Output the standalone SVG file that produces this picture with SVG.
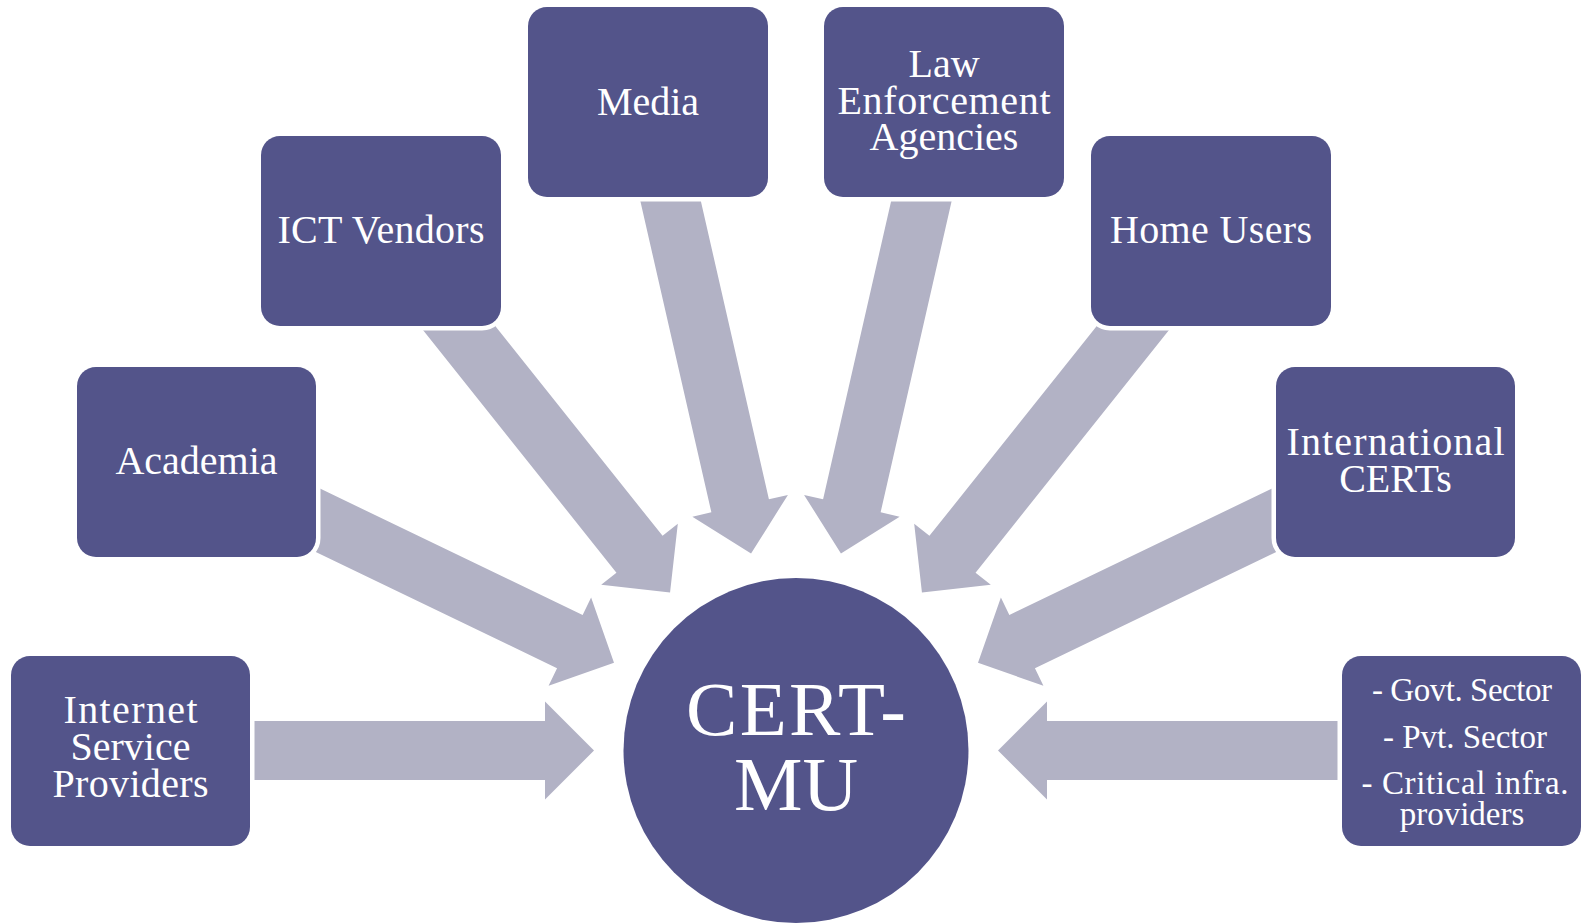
<svg xmlns="http://www.w3.org/2000/svg" width="1582" height="923" viewBox="0 0 1582 923">
<defs>
<style>
.box{fill:#53548a;stroke:#ffffff;stroke-width:9;paint-order:stroke}
.arrow{fill:#b2b2c5}
.t{font-family:"Liberation Serif","Times New Roman",serif;fill:#ffffff;text-anchor:middle;font-size:40px}
.s{font-size:33px}
.big{font-size:77px}
</style>
<polygon id="arr" points="-600,-29.5 -251,-29.5 -251,-49 -202,0 -251,49 -251,29.5 -600,29.5"/>
</defs>
<rect width="1582" height="923" fill="#ffffff"/>
<g id="connectors" class="arrow" transform="translate(796,750.5)">
<use href="#arr" transform="rotate(0)"/>
<use href="#arr" transform="rotate(25.714)"/>
<use href="#arr" transform="rotate(51.429)"/>
<use href="#arr" transform="rotate(77.143)"/>
<use href="#arr" transform="rotate(102.857)"/>
<use href="#arr" transform="rotate(128.571)"/>
<use href="#arr" transform="rotate(154.286)"/>
<use href="#arr" transform="rotate(180)"/>
</g>
<g id="isp"><rect class="box" x="11" y="656" width="239" height="190" rx="19"/>
<text class="t" x="130.5" y="723" textLength="134">Internet</text><text class="t" x="130.5" y="760">Service</text><text class="t" x="130.5" y="797" textLength="156">Providers</text></g>
<g id="academia"><rect class="box" x="77" y="367" width="239" height="190" rx="19"/>
<text class="t" x="196.5" y="474">Academia</text></g>
<g id="ict"><rect class="box" x="261" y="136" width="240" height="190" rx="19"/>
<text class="t" x="381" y="243" textLength="207">ICT Vendors</text></g>
<g id="media"><rect class="box" x="528" y="7" width="240" height="190" rx="19"/>
<text class="t" x="648" y="115">Media</text></g>
<g id="law"><rect class="box" x="824" y="7" width="240" height="190" rx="19"/>
<text class="t" x="944" y="77">Law</text><text class="t" x="944" y="114" textLength="213">Enforcement</text><text class="t" x="944" y="150">Agencies</text></g>
<g id="home"><rect class="box" x="1091" y="136" width="240" height="190" rx="19"/>
<text class="t" x="1211" y="243" textLength="202">Home Users</text></g>
<g id="intl"><rect class="box" x="1276" y="367" width="239" height="190" rx="19"/>
<text class="t" x="1395.5" y="455" textLength="218">International</text><text class="t" x="1395.5" y="492">CERTs</text></g>
<g id="sectors"><rect class="box" x="1342" y="656" width="239" height="190" rx="19"/>
<text class="t s" x="1462" y="701" textLength="180">- Govt. Sector</text><text class="t s" x="1465" y="748">- Pvt. Sector</text><text class="t s" x="1465" y="794" textLength="207">- Critical infra.</text><text class="t s" x="1462" y="825">providers</text></g>
<g id="certmu"><circle cx="796" cy="750.5" r="172.5" fill="#53548a"/>
<text class="t big" x="796" y="735" textLength="220">CERT-</text><text class="t big" x="796" y="810">MU</text></g>
</svg>
